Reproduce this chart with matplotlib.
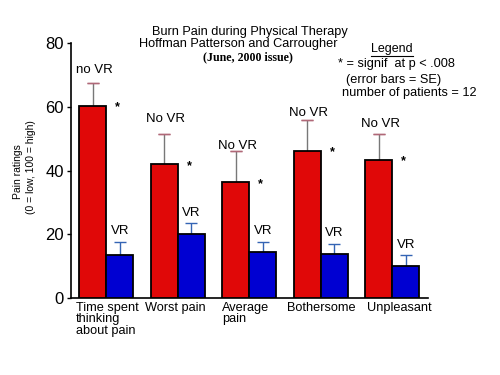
import matplotlib
matplotlib.use("Agg")
import matplotlib.pyplot as plt
import matplotlib.transforms as mtransforms
import numpy as np

plt.rcParams['font.family'] = ['Liberation Sans', 'DejaVu Sans']

categories = ["Time spent\nthinking\nabout pain", "Worst pain", "Average\npain", "Bothersome", "Unpleasant"]
novr_values = [60.3, 41.9, 36.3, 46.1, 43.3]
novr_se = [7.0, 9.7, 9.8, 9.6, 8.3]
vr_values = [13.5, 20.0, 14.3, 13.7, 9.9]
vr_se = [4.2, 3.4, 3.4, 3.3, 3.5]
novr_labels = ["no VR", "No VR", "No VR", "No VR", "No VR"]
vr_labels = ["VR", "VR", "VR", "VR", "VR"]
yticks = [0, 20, 40, 60, 80]

fig = plt.figure(figsize=(5, 3.75), dpi=100)
ax = fig.add_axes([0.1414, 0.2053, 0.7146, 0.68])

x = np.arange(len(categories))
w = 0.377
red = "#e00808"
blue = "#0000d2"

ax.bar(x - w / 2, novr_values, w, color=red, edgecolor="black", linewidth=1.3, zorder=3)
ax.bar(x + w / 2, vr_values, w, color=blue, edgecolor="black", linewidth=1.3, zorder=3)

ax.errorbar(x - w / 2, novr_values, yerr=[np.zeros(len(x)), novr_se], fmt="none",
            ecolor="#787878", elinewidth=1.0, capsize=0, zorder=2)
ax.errorbar(x - w / 2, np.array(novr_values) + np.array(novr_se), yerr=0, fmt="none",
            ecolor="#b06878", elinewidth=1.0, capsize=4.3, capthick=1.0, zorder=2)
ax.errorbar(x + w / 2, vr_values, yerr=[np.zeros(len(x)), vr_se], fmt="none",
            ecolor="#3464b4", elinewidth=1.0, capsize=4.3, capthick=1.0, zorder=2)

novr_offsets = [10, 10.5, 4, 5.5, 6.8]
for i in range(len(x)):
    top = novr_values[i] + novr_se[i]
    ax.annotate(novr_labels[i], (x[i] - w / 2, top), xytext=(1, novr_offsets[i]),
                textcoords="offset points", ha="center", va="center", fontsize=9.5)
    vtop = vr_values[i] + vr_se[i]
    ax.annotate(vr_labels[i], (x[i] + w / 2, vtop), xytext=(0, 7.5),
                textcoords="offset points", ha="center", va="center", fontsize=9.5)
    ax.annotate("*", (x[i] + w / 2, novr_values[i]), xytext=(-1.5, -1),
                textcoords="offset points", ha="center", va="center",
                fontsize=9, fontweight="bold")

trans = mtransforms.blended_transform_factory(ax.transData, ax.transAxes)
label_shift = [-0.05, -0.08, 0.0, -0.09, 0.02]
for i, c in enumerate(categories):
    ax.text(x[i] - w + label_shift[i], -0.015, c, transform=trans, ha="left", va="top",
            fontsize=9.2, linespacing=0.93)

ax.set_xlim(-0.5, 4.5)
ax.set_ylim(0, 80)
ax.set_yticks(yticks)
ax.set_yticklabels([str(t) for t in yticks], fontsize=12)
ax.set_xticks([])
ax.tick_params(axis="y", direction="out", length=3, width=1, pad=2)
for s in ["top", "right"]:
    ax.spines[s].set_visible(False)
ax.spines["left"].set_linewidth(1.2)
ax.spines["bottom"].set_linewidth(1.2)

fig.text(0.036, 0.542, "Pain ratings", rotation=90, ha="center", va="center", fontsize=7.5)
fig.text(0.062, 0.555, "(0 = low, 100 = high)", rotation=90, ha="center", va="center", fontsize=7.5)

fig.text(0.5, 1 - 31.7 / 375, "Burn Pain during Physical Therapy", ha="center", va="center", fontsize=9.2)
fig.text(0.476, 1 - 44.3 / 375, "Hoffman Patterson and Carrougher", ha="center", va="center", fontsize=9.2)
fig.text(0.496, 1 - 57.3 / 375, "(June, 2000 issue)", ha="center", va="center", fontsize=8.6,
         family=["Liberation Serif", "DejaVu Serif"], fontweight="bold")

fig.text(0.784, 1 - 49.3 / 375, "Legend", ha="center", va="center", fontsize=9)
fig.add_artist(plt.Line2D([0.742, 0.826], [1 - 55.5 / 375, 1 - 55.5 / 375], color="black", linewidth=0.8))
fig.text(0.792, 1 - 64 / 375, "* = signif  at p < .008", ha="center", va="center", fontsize=9.2)
fig.text(0.788, 1 - 80 / 375, "(error bars = SE)", ha="center", va="center", fontsize=9.2)
fig.text(0.818, 1 - 93.3 / 375, "number of patients = 12", ha="center", va="center", fontsize=9.2)

fig.savefig("out.png", dpi=100)
